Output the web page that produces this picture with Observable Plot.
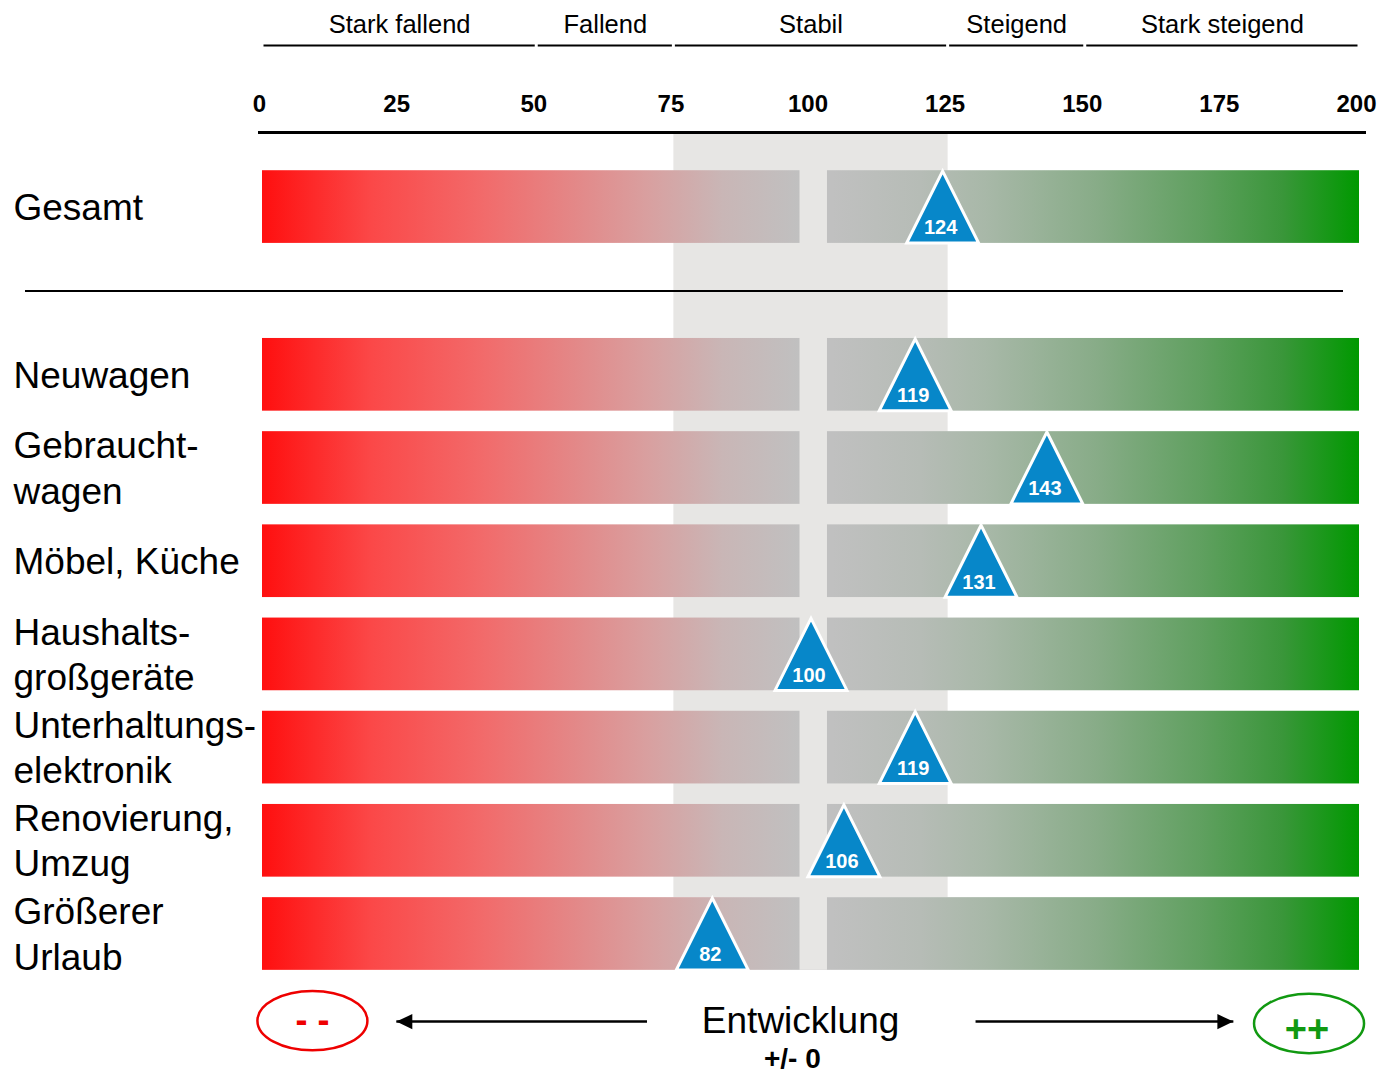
<!DOCTYPE html>
<html>
<head>
<meta charset="utf-8">
<script src="https://cdn.jsdelivr.net/npm/d3@7"></script>
<script src="https://cdn.jsdelivr.net/npm/@observablehq/plot@0.6"></script>
<style>
  html, body { margin: 0; padding: 0; background: #fff; }
  svg { font-family: "Liberation Sans", Arial, sans-serif; }
</style>
</head>
<body>
<div id="chart"></div>
<script>
// ---- data ----
const categories = ["Gesamt", "Neuwagen", "Gebraucht-\nwagen", "Möbel, Küche", "Haushalts-\ngroßgeräte", "Unterhaltungs-\nelektronik", "Renovierung,\nUmzug", "Größerer\nUrlaub"];
const values = [124, 119, 143, 131, 100, 119, 106, 82];
const tickValues = [0, 25, 50, 75, 100, 125, 150, 175, 200];
const headerLabels = ["Stark fallend", "Fallend", "Stabil", "Steigend", "Stark steigend"];
const headerBounds = [0, 50, 75, 125, 150, 200];
const stableRange = [75, 125];
const gapRange = [98, 103];
const scaleDomain = [0, 200];

// ---- layout (row units) ----
const rowPos = categories.map((_, i) => i === 0 ? 0 : i + 0.8);
const rows = categories.map((c, i) => ({cat: c, value: values[i], pos: rowPos[i]}));
const half = 0.39;
const axisRow = -0.8;
const sepRow = 0.9;
const headerRuleRow = -1.733;
const headerTextRow = -1.955;
const lastPos = rowPos[rowPos.length - 1];
const headers = headerLabels.map((l, i) => ({label: l, lo: headerBounds[i], hi: headerBounds[i + 1]}));

// custom symbols
const triangle = {draw(ctx, size) { const r = Math.sqrt(size / Math.PI); ctx.moveTo(0, -r); ctx.lineTo(r, r); ctx.lineTo(-r, r); ctx.closePath(); }};
const ellipse = {draw(ctx, size) {
  const rx = Math.sqrt(size / Math.PI), ry = rx * 0.54, k = 0.5523;
  ctx.moveTo(rx, 0);
  ctx.bezierCurveTo(rx, ry * k, rx * k, ry, 0, ry);
  ctx.bezierCurveTo(-rx * k, ry, -rx, ry * k, -rx, 0);
  ctx.bezierCurveTo(-rx, -ry * k, -rx * k, -ry, 0, -ry);
  ctx.bezierCurveTo(rx * k, -ry, rx, -ry * k, rx, 0);
  ctx.closePath();
}};
const headRight = {draw(ctx, size) { const r = Math.sqrt(size / Math.PI); ctx.moveTo(0, 0); ctx.lineTo(-r, -r * 0.47); ctx.lineTo(-r, r * 0.47); ctx.closePath(); }};

const arrows = [
  {from: 70.1, to: 24.4, rotate: 180},
  {from: 130.0, to: 177.0, rotate: 0}
];
const ends = [
  {x: 9.1, y: 8.73, label: "- -", color: "#ee0000"},
  {x: 190.8, y: 8.76, label: "++", color: "#119911"}
];

const chart = Plot.plot({
  width: 1380,
  height: 1076,
  marginTop: 132,
  marginLeft: 262,
  marginRight: 21,
  marginBottom: 0,
  x: {domain: scaleDomain, range: [262, 1359]},
  y: {domain: [axisRow, lastPos], range: [132, 933.5], axis: null},
  marks: [
    // stable band
    Plot.rect([stableRange], {x1: d => d[0], x2: d => d[1], y1: () => axisRow, y2: () => lastPos - half, fill: "#e7e6e4"}),
    // bars
    Plot.rect(rows, {x1: () => scaleDomain[0], x2: () => scaleDomain[1], y1: d => d.pos - half, y2: d => d.pos + half, fill: "url(#barGrad)"}),
    // center gap
    Plot.rect([gapRange], {x1: d => d[0], x2: d => d[1], y1: () => axisRow, y2: () => lastPos + half, fill: "#e7e6e4"}),
    // axis
    Plot.axisX(tickValues, {anchor: "top", tickSize: 0, tickPadding: 21, dx: -3, fontSize: 24, fontWeight: "bold", fill: "#000", label: null}),
    Plot.ruleY([axisRow], {stroke: "#000", strokeWidth: 3, insetLeft: -4, insetRight: -7}),
    // separator
    Plot.ruleY([sepRow], {stroke: "#000", strokeWidth: 2, insetLeft: -237, insetRight: 16}),
    // header
    Plot.ruleY(headers, {y: () => headerRuleRow, x1: "lo", x2: "hi", insetLeft: 1.5, insetRight: 1.5, stroke: "#000", strokeWidth: 2}),
    Plot.text(headers, {x: d => (d.lo + d.hi) / 2, y: () => headerTextRow, text: "label", fontSize: 25.5, fill: "#000"}),
    // category labels
    Plot.text(rows, {frameAnchor: "left", dx: -249, dy: -1.5, y: "pos", text: "cat", textAnchor: "start", fontSize: 37, lineHeight: 1.22, fill: "#000"}),
    // triangles
    Plot.dot(rows, {x: "value", y: "pos", r: 36, symbol: triangle, fill: "#0787c9", stroke: "#fff", strokeWidth: 3}),
    Plot.text(rows, {x: "value", y: "pos", text: d => String(d.value), dx: -2, dy: 21, fontSize: 20, fontWeight: "bold", fill: "#fff"}),
    // bottom annotation
    Plot.link(arrows, {x1: "from", x2: "to", y1: () => 8.74, y2: () => 8.74, stroke: "#000", strokeWidth: 2.5}),
    Plot.dot(arrows, {x: "to", y: () => 8.74, r: 16, symbol: headRight, rotate: "rotate", fill: "#000", stroke: "none"}),
    Plot.dot(ends, {x: "x", y: "y", r: 55, symbol: ellipse, stroke: "color", fill: "none", strokeWidth: 2.5}),
    Plot.text(ends.slice(0, 1), {x: "x", y: "y", text: "label", fill: "color", dy: 0, fontSize: 36, fontWeight: "bold"}),
    Plot.text(ends.slice(1), {x: "x", y: "y", text: "label", fill: "color", dy: 6, dx: -2, fontSize: 38, fontWeight: "bold"}),
    Plot.text(["Entwicklung"], {x: () => 98.1, y: () => 8.74, text: d => d, fontSize: 37, fill: "#000"}),
    Plot.text(["+/- 0"], {x: () => 96.6, y: () => 9.146, text: d => d, fontSize: 28, fontWeight: "bold", fill: "#000"})
  ]
});

// gradient definition
const defs = d3.select(chart).insert("defs", ":first-child");
const grad = defs.append("linearGradient").attr("id", "barGrad").attr("x1", "0").attr("x2", "1").attr("y1", "0").attr("y2", "0");
[[0, "#ff0f0f"], [0.1, "#fb4848"], [0.2, "#f26a6a"], [0.28, "#e48686"], [0.35, "#d99f9f"], [0.42, "#c9b6b6"], [0.49, "#c0c0c0"], [0.52, "#c0c0c0"], [0.6, "#b6bcb6"], [0.66, "#a8b8a8"], [0.76, "#88ac88"], [0.855, "#60a060"], [0.93, "#3a963a"], [1, "#009900"]]
  .forEach(([o, c]) => grad.append("stop").attr("offset", o).attr("stop-color", c));

document.getElementById("chart").appendChild(chart);
</script>
</body>
</html>
